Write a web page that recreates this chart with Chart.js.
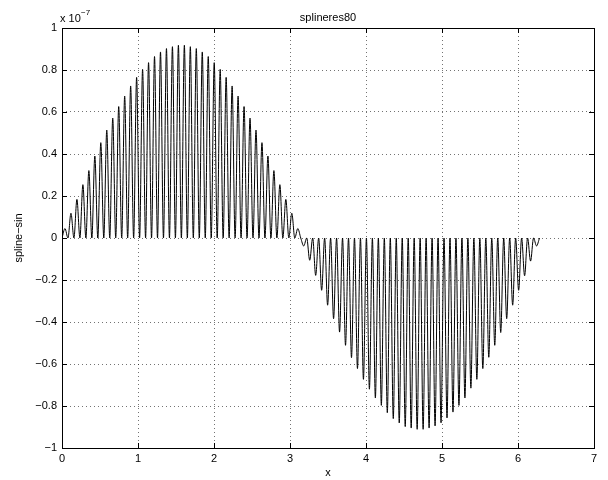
<!DOCTYPE html>
<html>
<head>
<meta charset="utf-8">
<script src="https://cdn.jsdelivr.net/npm/chart.js@4/dist/chart.umd.min.js"></script>
<style>
  body { margin: 0; background: #fff; }
  #wrap { width: 608px; height: 480px; }
</style>
</head>
<body>
<div id="wrap"><canvas id="myChart" width="608" height="480"></canvas></div>
<script>
// peak error in each of the 80 spline intervals, in units of 1e-7
var posPeaks = [0.045, 0.118, 0.184, 0.254, 0.321, 0.39, 0.454, 0.514, 0.571, 0.626,
    0.676, 0.724, 0.765, 0.803, 0.835, 0.864, 0.886, 0.902, 0.911, 0.918,
    0.918, 0.911, 0.902, 0.886, 0.864, 0.835, 0.803, 0.765, 0.724, 0.676,
    0.626, 0.571, 0.514, 0.454, 0.39, 0.321, 0.254, 0.184, 0.118, 0.045];
var negPeaks = [-0.038, -0.106, -0.178, -0.249, -0.32, -0.384, -0.448, -0.511, -0.57, -0.622,
    -0.673, -0.72, -0.762, -0.797, -0.832, -0.86, -0.881, -0.898, -0.905, -0.911,
    -0.911, -0.905, -0.895, -0.88, -0.857, -0.829, -0.797, -0.762, -0.715, -0.673,
    -0.622, -0.568, -0.511, -0.45, -0.384, -0.32, -0.249, -0.18, -0.11, -0.038];
var xTicks = [0, 1, 2, 3, 4, 5, 6, 7];
var yTicks = [-1, -0.8, -0.6, -0.4, -0.2, 0, 0.2, 0.4, 0.6, 0.8, 1];

var peaks = posPeaks.concat(negPeaks);
var h = 2 * Math.PI / peaks.length;   // knot spacing on [0, 2pi]

// spline matches sin at the knots, so the error is zero there
var points = [];
peaks.forEach(function (p, k) {
    points.push({ x: k * h, y: 0 });
    points.push({ x: (k + 0.5) * h, y: p });
});
points.push({ x: peaks.length * h, y: 0 });

var font = "'Liberation Sans', Arial, sans-serif";

// box, inward ticks and the matlab style texts
var frame = {
    id: 'frame',
    afterDraw: function (chart) {
        var g = chart.ctx;
        var a = chart.chartArea;
        var xs = chart.scales.x, ys = chart.scales.y;
        g.save();
        g.strokeStyle = '#000';
        g.lineWidth = 1;
        g.strokeRect(Math.round(a.left) + 0.5, Math.round(a.top) + 0.5,
            Math.round(a.right - a.left), Math.round(a.bottom - a.top));
        g.beginPath();
        xTicks.forEach(function (t) {
            var px = Math.round(xs.getPixelForValue(t)) + 0.5;
            g.moveTo(px, a.bottom); g.lineTo(px, a.bottom - 5);
            g.moveTo(px, a.top); g.lineTo(px, a.top + 5);
        });
        yTicks.forEach(function (t) {
            var py = Math.round(ys.getPixelForValue(t)) + 0.5;
            g.moveTo(a.left, py); g.lineTo(a.left + 5, py);
            g.moveTo(a.right, py); g.lineTo(a.right - 5, py);
        });
        g.stroke();

        g.fillStyle = '#000';
        g.font = '11px ' + font;
        g.textAlign = 'center';
        g.textBaseline = 'alphabetic';
        g.fillText('splineres80', (a.left + a.right) / 2, 21);
        g.fillText('x', (a.left + a.right) / 2, 476);

        g.textAlign = 'left';
        g.fillText('x 10', a.left - 2, 22);
        g.font = '8px ' + font;
        g.fillText('\u22127', a.left + 19, 15);

        g.font = '11px ' + font;
        g.translate(22, (a.top + a.bottom) / 2);
        g.rotate(-Math.PI / 2);
        g.textAlign = 'center';
        g.fillText('spline\u2212sin', 0, 0);
        g.restore();
    }
};

var c = new Chart(document.getElementById('myChart'), {
    type: 'line',
    data: {
        datasets: [{
            data: points,
            borderColor: '#000',
            borderWidth: 1,
            pointRadius: 0,
            cubicInterpolationMode: 'monotone',
            fill: false
        }]
    },
    options: {
        responsive: false,
        animation: false,
        layout: { padding: { top: 28, right: 14, left: 0, bottom: 0 } },
        plugins: {
            legend: { display: false },
            tooltip: { enabled: false }
        },
        scales: {
            x: {
                type: 'linear',
                min: 0,
                max: 7,
                afterFit: function (s) { s.height = 32; },
                afterBuildTicks: function (s) { s.ticks = xTicks.map(function (v) { return { value: v }; }); },
                ticks: { color: '#000', font: { family: font, size: 11 }, padding: 4, maxRotation: 0 },
                grid: { color: 'rgba(0,0,0,0.55)', drawTicks: false },
                border: { display: false, dash: [1, 3] }
            },
            y: {
                min: -1,
                max: 1,
                afterFit: function (s) { s.width = 62; },
                afterBuildTicks: function (s) { s.ticks = yTicks.map(function (v) { return { value: v }; }); },
                ticks: {
                    color: '#000',
                    font: { family: font, size: 11 },
                    padding: 5,
                    callback: function (v) {
                        var r = Math.round(v * 10) / 10;
                        if (r === 0) return '0';
                        return (r < 0 ? '\u2212' : '') + Math.abs(r);
                    }
                },
                grid: { color: 'rgba(0,0,0,0.55)', drawTicks: false },
                border: { display: false, dash: [1, 3] }
            }
        }
    },
    plugins: [frame]
});
</script>
</body>
</html>
